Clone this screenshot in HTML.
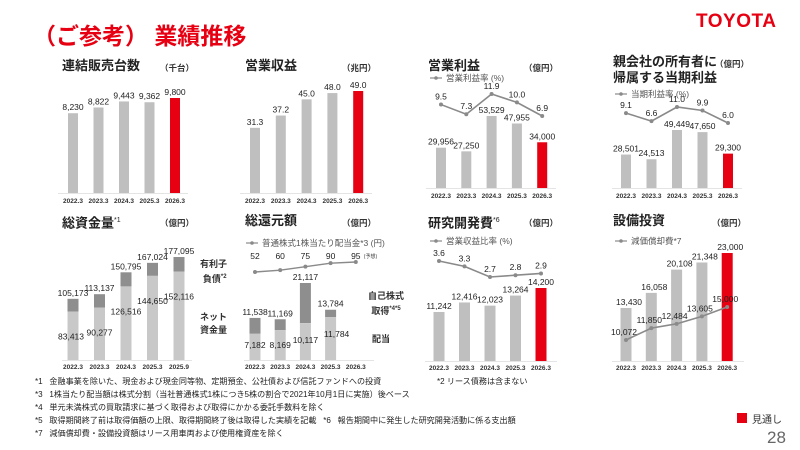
<!DOCTYPE html>
<html><head><meta charset="utf-8">
<style>
body{margin:0;width:800px;height:450px;background:#fff;overflow:hidden;position:relative;font-family:"Liberation Sans","Noto Sans CJK JP",sans-serif;}
.ab{position:absolute;white-space:nowrap;}
.pt{position:absolute;font-size:13px;font-weight:bold;color:#222;white-space:nowrap;line-height:16px;}
.un{position:absolute;font-size:8.5px;color:#333;white-space:nowrap;font-weight:bold;}
.fn{position:absolute;font-size:8.1px;color:#222;white-space:nowrap;left:35px;}
svg{position:absolute;left:0;top:0;}
</style></head><body>
<div class="ab" style="left:33px;top:17px;font-size:23px;font-weight:bold;color:#e60012;">（ご参考） 業績推移</div>
<div class="ab" style="left:696px;top:11px;font-size:19px;font-weight:bold;color:#e60012;letter-spacing:0.5px;">TOYOTA</div>

<div class="pt" style="left:62px;top:58px;">連結販売台数</div>
<div class="un" style="left:160px;top:62px;">（千台）</div>
<div class="pt" style="left:245px;top:58px;">営業収益</div>
<div class="un" style="left:342px;top:62px;">（兆円）</div>
<div class="pt" style="left:428px;top:58px;">営業利益</div>
<div class="un" style="left:524px;top:62px;">（億円）</div>
<div class="pt" style="left:613px;top:54px;">親会社の所有者に<br>帰属する当期利益</div>
<div class="un" style="left:715px;top:58px;">（億円）</div>

<div class="pt" style="left:62px;top:213px;">総資金量<sup style="font-size:7px;font-weight:normal">*1</sup></div>
<div class="un" style="left:160px;top:217px;">（億円）</div>
<div class="pt" style="left:245px;top:213px;">総還元額</div>
<div class="un" style="left:342px;top:217px;">（億円）</div>
<div class="pt" style="left:428px;top:213px;">研究開発費<sup style="font-size:7px;font-weight:normal">*6</sup></div>
<div class="un" style="left:524px;top:217px;">（億円）</div>
<div class="pt" style="left:613px;top:213px;">設備投資</div>
<div class="un" style="left:712px;top:217px;">（億円）</div>

<div class="un" style="left:200px;top:258px;font-size:9px;text-align:center;line-height:13px;">有利子<br>&nbsp;負債<sup style="font-size:6px">*2</sup></div>
<div class="un" style="left:200px;top:311px;font-size:9px;text-align:center;line-height:13px;">ネット<br>資金量</div>
<div class="un" style="left:368px;top:290px;font-size:9px;text-align:center;line-height:13px;">自己株式<br>取得<sup style="font-size:6px">*4*5</sup></div>
<div class="un" style="left:372px;top:332px;font-size:9px;">配当</div>

<div class="fn" style="top:376px;">*1&nbsp;&nbsp;&nbsp;金融事業を除いた、現金および現金同等物、定期預金、公社債および信託ファンドへの投資</div>
<div class="fn" style="top:376px;left:437px;">*2 リース債務は含まない</div>
<div class="fn" style="top:389px;">*3&nbsp;&nbsp;&nbsp;1株当たり配当額は株式分割（当社普通株式1株につき5株の割合で2021年10月1日に実施）後ベース</div>
<div class="fn" style="top:402px;">*4&nbsp;&nbsp;&nbsp;単元未満株式の買取請求に基づく取得および取得にかかる委託手数料を除く</div>
<div class="fn" style="top:415px;">*5&nbsp;&nbsp;&nbsp;取得期間終了前は取得価額の上限、取得期間終了後は取得した実績を記載&nbsp;&nbsp;&nbsp;*6&nbsp;&nbsp;&nbsp;報告期間中に発生した研究開発活動に係る支出額</div>
<div class="fn" style="top:428px;">*7&nbsp;&nbsp;&nbsp;減価償却費・設備投資額はリース用車両および使用権資産を除く</div>
<div class="ab" style="left:737px;top:413px;width:10px;height:10px;background:#e60012;"></div>
<div class="ab" style="left:752px;top:411px;font-size:10px;color:#333;">見通し</div>
<div class="ab" style="left:767px;top:428px;font-size:17px;color:#666;">28</div>

<svg id="chart" width="800" height="450"></svg>
<script>
const years = ['2022.3','2023.3','2024.3','2025.3','2026.3'];
const yearsLiquidity = ['2022.3','2023.3','2024.3','2025.3','2025.9'];
const unitSales = [8230, 8822, 9443, 9362, 9800];
const unitSalesLabels = ['8,230','8,822','9,443','9,362','9,800'];
const revenue = [31.3, 37.2, 45.0, 48.0, 49.0];
const revenueLabels = ['31.3','37.2','45.0','48.0','49.0'];
const opIncome = [29956, 27250, 53529, 47955, 34000];
const opIncomeLabels = ['29,956','27,250','53,529','47,955','34,000'];
const opMargin = [9.5, 7.3, 11.9, 10.0, 6.9];
const netIncome = [28501, 24513, 49449, 47650, 29300];
const netIncomeLabels = ['28,501','24,513','49,449','47,650','29,300'];
const netMargin = [9.1, 6.6, 11.0, 9.9, 6.0];
const liqTotal = [105173, 113137, 150795, 167024, 177095];
const liqTotalLabels = ['105,173','113,137','150,795','167,024','177,095'];
const liqNet = [83413, 90277, 126516, 144650, 152116];
const liqNetLabels = ['83,413','90,277','126,516','144,650','152,116'];
const retTotal = [11538, 11169, 21117, 13784];
const retTotalLabels = ['11,538','11,169','21,117','13,784'];
const retDividend = [7182, 8169, 10117, 11784];
const retDividendLabels = ['7,182','8,169','10,117','11,784'];
const dps = [52, 60, 75, 90, 95];
const rnd = [11242, 12416, 12023, 13264, 14200];
const rndLabels = ['11,242','12,416','12,023','13,264','14,200'];
const rndRatio = [3.6, 3.3, 2.7, 2.8, 2.9];
const capex = [13430, 16058, 20108, 21348, 23000];
const capexLabels = ['13,430','16,058','20,108','21,348','23,000'];
const depreciation = [10072, 11850, 12484, 13605, 15000];
const depreciationLabels = ['10,072','11,850','12,484','13,605','15,000'];

const NS='http://www.w3.org/2000/svg';
const svg=document.getElementById('chart');
const GRAY='#bfbfbf', RED='#e60012', DARK='#8e8e8e', LIGHT='#c8c8c8', LINE='#8a8a8a';
function mk(tag,a){const e=document.createElementNS(NS,tag);for(const k in a)e.setAttribute(k,a[k]);svg.appendChild(e);return e;}
function tx(x,y,s,size,anchor,fill,weight){const e=mk('text',{x:x,y:y,'font-size':size,'text-anchor':anchor||'middle',fill:fill||'#222','font-family':'Liberation Sans, Noto Sans CJK JP, sans-serif','font-weight':weight||'normal'});e.textContent=s;return e;}
function yScale(base,top,vmin,vmax){return v=>base-(v-vmin)*(base-top)/(vmax-vmin);}
function xBand(x0,step){return i=>x0+i*step;}

function axis(x, base, w, labels, name){
  const l=mk('line',{x1:x,x2:x+w,y1:base+0.5,y2:base+0.5,stroke:'#e4e4e4','stroke-width':1});
  
  
}
function xLabels(xf, y, labels, name){
  labels.forEach((s,i)=>{
    const t=tx(xf(i),y,s,6.5,'middle','#333','bold');
    
    
  });
}
function bars(xf, ys, vals, labels, base, w, name, redLast, labelOff){
  vals.forEach((v,i)=>{
    const top=ys(v);
    const r=mk('rect',{x:xf(i)-w/2,y:top,width:w,height:base-top,fill:(redLast&&i===vals.length-1)?RED:GRAY});
    
    
    const t=tx(xf(i)+(labelOff||0),top-3,labels[i],8.5);
    
    
  });
}
function line(xf, ys, vals, labels, name, labDx){
  const pts=vals.map((v,i)=>xf(i)+','+ys(v)).join(' ');
  const p=mk('polyline',{points:pts,fill:'none',stroke:LINE,'stroke-width':1.6});
  
  
  vals.forEach((v,i)=>{
    const c=mk('circle',{cx:xf(i),cy:ys(v),r:2,fill:LINE});
    
    
    const t=tx(xf(i)+(labDx||0),ys(v)-5,labels[i],8.5);
    
    
  });
}
function legend(x,y,s,name){
  const l=mk('line',{x1:x,x2:x+12,y1:y,y2:y,stroke:LINE,'stroke-width':1.2});
  
  
  const c=mk('circle',{cx:x+6,cy:y,r:1.8,fill:LINE});
  
  
  const t=tx(x+16,y+3,s,8.5,'start','#555');
  
  
}

(function(){
  const xf=xBand(73,25.5), ys=yScale(193,98,0,9800);
  axis(58,193,130,years,'unit-sales');
  bars(xf,ys,unitSales,unitSalesLabels,193,10,'unit-sales',true);
  xLabels(xf,203,years,'unit-sales');
})();
(function(){
  const xf=xBand(255,25.8), ys=yScale(193,91,0,49);
  axis(240,193,132,years,'revenue');
  bars(xf,ys,revenue,revenueLabels,193,10,'revenue',true);
  xLabels(xf,203,years,'revenue');
})();
(function(){
  const xf=xBand(441,25.3), ys=yScale(188,116,0,53529);
  axis(426,188,130,years,'operating-income');
  bars(xf,ys,opIncome,opIncomeLabels,188,10,'operating-income',true);
  const ls=yScale(116,94,6.9,11.9);
  line(xf,ls,opMargin,opMargin.map(v=>v.toFixed(1)),'operating-margin');
  legend(430,78,'営業利益率 (%)','operating-margin');
  xLabels(xf,198,years,'operating-income');
})();
(function(){
  const xf=xBand(626,25.5), ys=yScale(188,130,0,49449);
  axis(612,188,130,years,'net-income');
  bars(xf,ys,netIncome,netIncomeLabels,188,10,'net-income',true);
  const ls=yScale(123,107,6.0,11.0);
  line(xf,ls,netMargin,netMargin.map(v=>v.toFixed(1)),'net-margin');
  legend(615,94,'当期利益率 (%)','net-margin');
  xLabels(xf,198,years,'net-income');
})();
(function(){
  const xf=xBand(73,26.5), ys=yScale(360,257,0,177095);
  axis(62,360,130,yearsLiquidity,'liquidity');
  liqTotal.forEach((v,i)=>{
    const top=ys(v), mid=ys(liqNet[i]);
    const d=mk('rect',{x:xf(i)-5.5,y:top,width:11,height:mid-top,fill:DARK});
    
    
    const n=mk('rect',{x:xf(i)-5.5,y:mid,width:11,height:360-mid,fill:LIGHT});
    
    
    const t=tx(xf(i),top-3,liqTotalLabels[i],8.5);
    
    
    const t2=tx(xf(i)+(i===0?-2:0),mid+28,liqNetLabels[i],8.5);
    
    
  });
  xLabels(xf,369,yearsLiquidity,'liquidity');
})();
(function(){
  const xf=xBand(255,25.2), ys=yScale(360,283,0,21117);
  axis(244,360,130,years,'shareholder-return');
  retTotal.forEach((v,i)=>{
    const top=ys(v), mid=ys(retDividend[i]);
    const d=mk('rect',{x:xf(i)-5.5,y:top,width:11,height:mid-top,fill:DARK});
    
    
    const n=mk('rect',{x:xf(i)-5.5,y:mid,width:11,height:360-mid,fill:LIGHT});
    
    
    const t=tx(xf(i),top-3,retTotalLabels[i],8.5);
    
    
    const t2=tx(xf(i)+(i===3?6:0),Math.min(mid+20,348),retDividendLabels[i],8.5);
    
    
  });
  const ls=yScale(272,262,52,95);
  const pts=dps.map((v,i)=>xf(i)+','+ls(v)).join(' ');
  const p=mk('polyline',{points:pts,fill:'none',stroke:LINE,'stroke-width':1.4});
  
  
  dps.forEach((v,i)=>{
    const c=mk('circle',{cx:xf(i),cy:ls(v),r:2,fill:LINE});
    
    
    const t=tx(xf(i),259,String(v),8.5);
    
    
  });
  const f=tx(xf(4)+8,258,'(予想)',5,'start','#333');
  
  
  legend(246,243,'普通株式1株当たり配当金*3 (円)','dps');
  xLabels(xf,369,years,'shareholder-return');
})();
(function(){
  const xf=xBand(439,25.5), ys=yScale(361,288,5200,14200);
  axis(425,361,132,years,'rnd');
  bars(xf,ys,rnd,rndLabels,361,11,'rnd',true);
  const ls=yScale(277,261,2.7,3.6);
  line(xf,ls,rndRatio,rndRatio.map(v=>v.toFixed(1)),'rnd-ratio');
  legend(430,241,'営業収益比率 (%)','rnd-ratio');
  xLabels(xf,370,years,'rnd');
})();
(function(){
  const xf=xBand(626,25.3), ys=yScale(361,253,4200,23000);
  axis(612,361,132,years,'capex');
  bars(xf,ys,capex,capexLabels,361,11,'capex',true,3);
  const ls=yScale(340,307,10072,15000);
  line(xf,ls,depreciation,depreciationLabels,'depreciation',-2);
  legend(615,241,'減価償却費*7','depreciation');
  xLabels(xf,370,years,'capex');
})();
</script>
</body></html>
